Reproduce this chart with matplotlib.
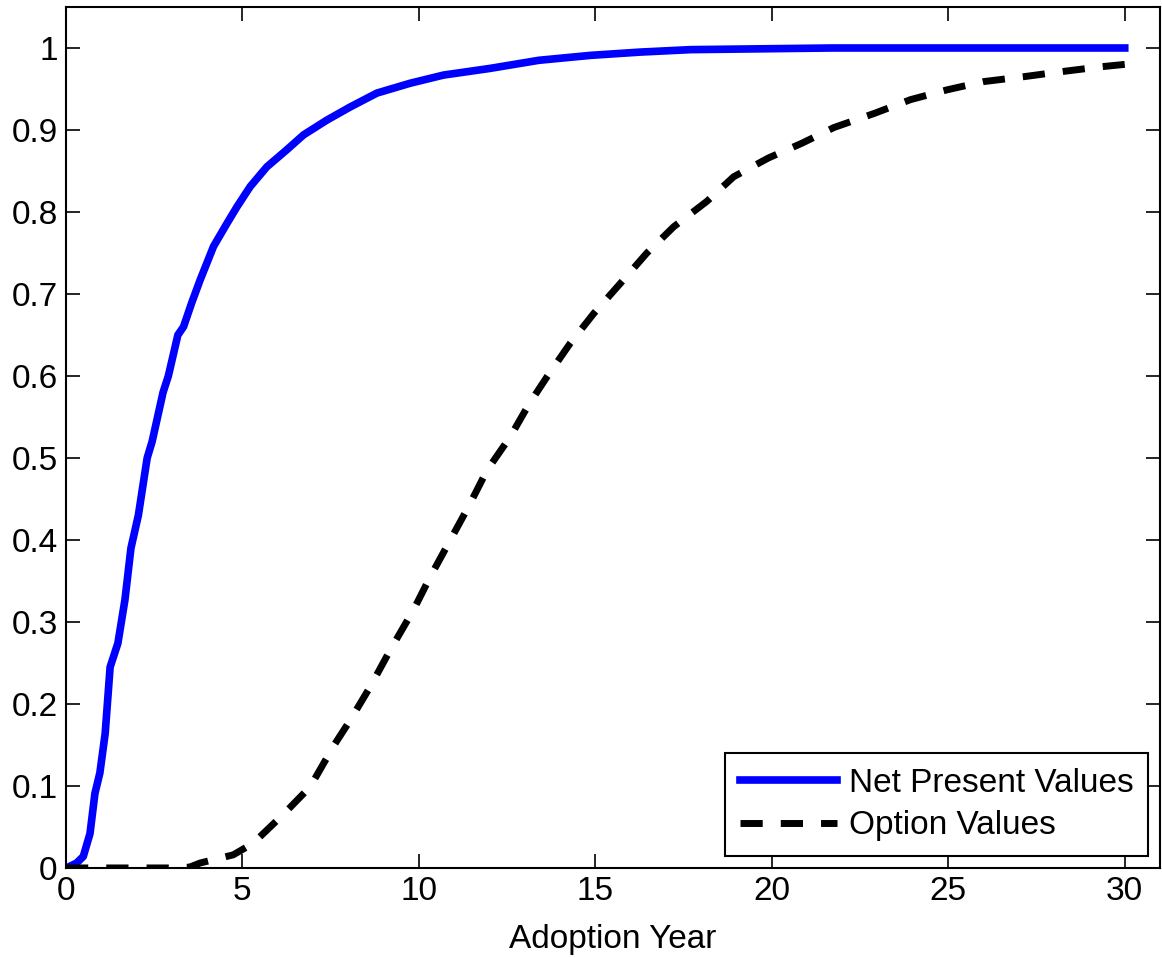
import numpy as np
import matplotlib
matplotlib.use("Agg")
import matplotlib.pyplot as plt

plt.rcParams['font.family'] = ['Liberation Sans', 'DejaVu Sans']

# Net present values (cumulative share adopted by year)
npv_year = [0, 0.11, 0.3, 0.49, 0.68, 0.82, 0.96, 1.11, 1.25, 1.47, 1.67, 1.84, 2.05,
            2.3, 2.44, 2.75, 2.9, 3.17, 3.33, 3.56, 3.8, 4.18, 4.56, 4.84, 5.22, 5.69,
            6.26, 6.73, 7.39, 8.05, 8.81, 9.75, 10.7, 12.0, 13.4, 14.86, 16.27, 17.7,
            21.7, 30.0]
npv_share = [0, 0.002, 0.006, 0.014, 0.042, 0.091, 0.116, 0.164, 0.245, 0.274, 0.327,
             0.39, 0.43, 0.5, 0.52, 0.58, 0.6, 0.65, 0.66, 0.689, 0.717, 0.758, 0.786,
             0.806, 0.831, 0.855, 0.876, 0.894, 0.912, 0.928, 0.945, 0.957, 0.967,
             0.975, 0.985, 0.991, 0.995, 0.998, 1.0, 1.0]

# Option values
opt_year = [0, 1.0, 2.0, 3.0, 3.5, 3.8, 4.74, 5.3, 6.15, 6.92, 7.6, 8.05, 8.62, 9.19,
            9.85, 10.32, 10.89, 11.41, 11.93, 12.59, 13.11, 13.63, 14.29, 14.95, 15.71,
            16.46, 17.22, 18.16, 18.92, 19.91, 20.86, 21.76, 22.89, 23.93, 24.97, 26.0,
            27.14, 28.18, 29.3, 30.0]
opt_share = [0, 0, 0, 0, 0.001, 0.006, 0.016, 0.03, 0.065, 0.099, 0.15, 0.18, 0.221,
             0.266, 0.315, 0.355, 0.4, 0.441, 0.485, 0.526, 0.565, 0.599, 0.64, 0.676,
             0.713, 0.75, 0.782, 0.813, 0.843, 0.866, 0.884, 0.903, 0.92, 0.937, 0.949,
             0.959, 0.965, 0.971, 0.977, 0.98]

fig = plt.figure(figsize=(11.62, 9.58), dpi=100)
ax = fig.add_axes([0.0568, 0.094, 0.9415, 0.8987])

ax.plot(npv_year, npv_share, color='#0000ff', lw=5.5, label='Net Present Values')
ax.plot(opt_year, opt_share, color='k', lw=5, dashes=(3.2, 2.6),
        dash_capstyle='butt', label='Option Values')

ax.set_xlim(0, 31)
ax.set_ylim(0, 1.05)
ax.set_xticks(np.arange(0, 31, 5))
ax.set_yticks(np.arange(0, 1.01, 0.1))
ax.set_yticklabels(['0', '0.1', '0.2', '0.3', '0.4', '0.5', '0.6', '0.7', '0.8', '0.9', '1'])
ax.tick_params(direction='in', length=10, width=1.2, top=True, right=True,
               labelsize=24, pad=6)
for s in ax.spines.values():
    s.set_linewidth(1.5)
ax.set_xlabel('Adoption Year', fontsize=24, labelpad=12)

leg = ax.legend(loc='lower right', fontsize=24, handlelength=2.9, handletextpad=0.35,
                borderaxespad=0.35, fancybox=False, edgecolor='k', framealpha=1,
                borderpad=0.45, labelspacing=0.35)
leg.get_frame().set_linewidth(1.5)

fig.savefig('out.png', dpi=100)
